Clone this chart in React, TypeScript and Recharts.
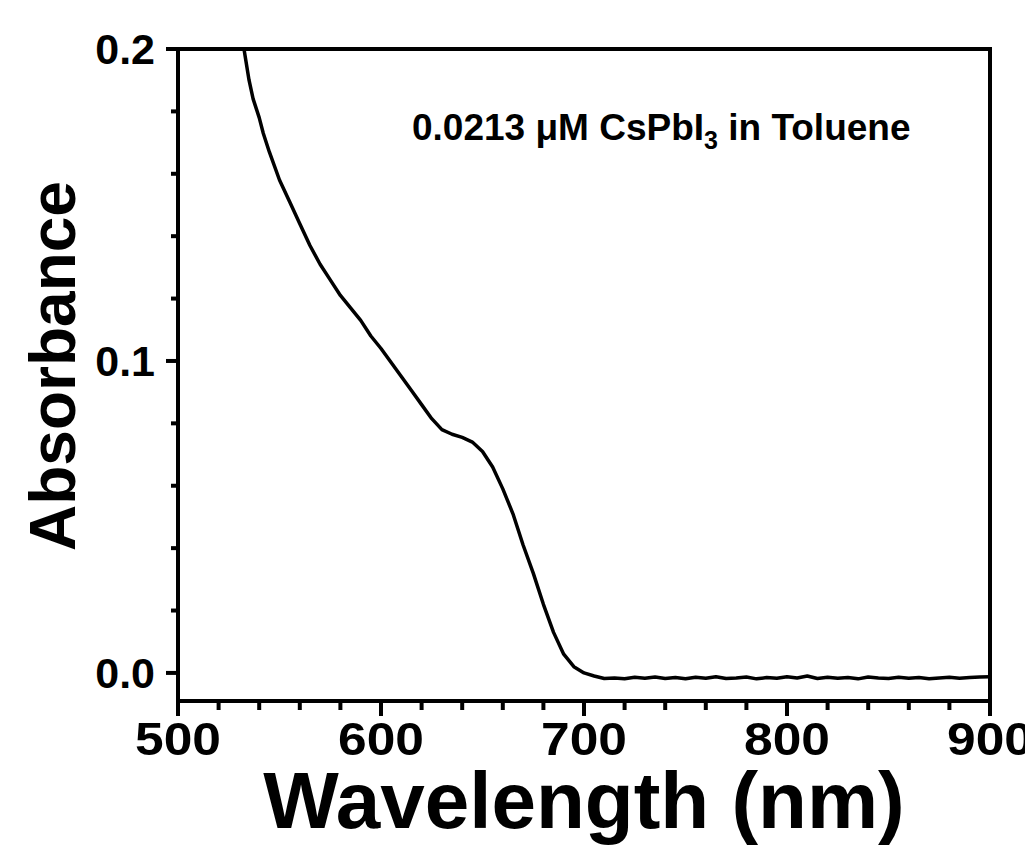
import React from 'react';
import { LineChart, Line, XAxis, YAxis, ReferenceArea } from 'recharts';

const wavelengths = [
  532.5, 535, 537, 540, 542, 545, 550, 555, 560, 565, 570, 575, 580, 585, 590, 595,
  600, 605, 610, 615, 620, 625, 630, 635, 640, 645, 650, 655, 660, 665, 670, 675,
  680, 685, 690, 695, 700, 705, 710, 715, 720, 725, 730, 735, 740, 745, 750, 755,
  760, 765, 770, 775, 780, 785, 790, 795, 800, 805, 810, 815, 820, 825, 830, 835,
  840, 845, 850, 855, 860, 865, 870, 875, 880, 885, 890, 895, 900,
];
const absorbance = [
  0.2, 0.19, 0.184, 0.178, 0.173, 0.167, 0.158, 0.151, 0.144, 0.137, 0.131, 0.126, 0.121, 0.117, 0.113, 0.108,
  0.104, 0.0995, 0.095, 0.0905, 0.086, 0.0815, 0.078, 0.0765, 0.0755, 0.074, 0.071, 0.066, 0.059, 0.051, 0.041, 0.032,
  0.022, 0.013, 0.006, 0.002, 0.0, -0.001, -0.0018, -0.0016, -0.0019, -0.0014, -0.0017, -0.0013, -0.0018, -0.0015, -0.0019, -0.0014,
  -0.0017, -0.0012, -0.0018, -0.0016, -0.0013, -0.0019, -0.0015, -0.0017, -0.0012, -0.0016, -0.001, -0.0018, -0.0014, -0.0017, -0.0015, -0.0019,
  -0.0013, -0.0016, -0.0018, -0.0014, -0.0017, -0.0015, -0.0019, -0.0016, -0.0014, -0.0017, -0.0015, -0.0013, -0.0012,
];
const xTicks = [500, 520, 540, 560, 580, 600, 620, 640, 660, 680, 700, 720, 740, 760, 780, 800, 820, 840, 860, 880, 900];
const yTicks = [0, 0.02, 0.04, 0.06, 0.08, 0.1, 0.12, 0.14, 0.16, 0.18, 0.2];
const xDomain = [500, 900];
const yDomain = [-0.009, 0.2];

const data = wavelengths.map((w, i) => ({ w, a: absorbance[i] }));

const FONT = '"Liberation Sans", Arial, Helvetica, sans-serif';

const XTick = (props: any) => {
  const { x, y, payload } = props;
  const v = payload.value;
  const major = v % 100 === 0;
  return (
    <g>
      <line x1={x} x2={x} y1={y} y2={y + (major ? 15 : 9)} stroke="#000" strokeWidth={4} />
      {major && (
        <text
          transform={`translate(${x},${y + 38}) scale(1.12,1)`}
          x={0}
          y={0}
          dy="0.355em"
          textAnchor="middle"
          fontFamily={FONT}
          fontWeight="bold"
          fontSize={46}
          fill="#000"
        >
          {v}
        </text>
      )}
    </g>
  );
};

const YTick = (props: any) => {
  const { x, y, payload } = props;
  const v = payload.value;
  const major = Math.abs(v * 10 - Math.round(v * 10)) < 1e-9;
  return (
    <g>
      <line x1={x} x2={x - (major ? 12 : 7)} y1={y} y2={y} stroke="#000" strokeWidth={4} />
      {major && (
        <text x={x - 23} y={y} dy="0.355em" textAnchor="end" fontFamily={FONT} fontWeight="bold" fontSize={43} fill="#000">
          {v.toFixed(1)}
        </text>
      )}
    </g>
  );
};

export default function App() {
  const W = 1025;
  const H = 842;
  return (
    <div style={{ position: 'relative', width: W, height: H }}>
      <LineChart width={W} height={H} data={data} margin={{ top: 41, right: 43, bottom: 0, left: 0 }}>
        <XAxis
          dataKey="w"
          type="number"
          domain={xDomain}
          ticks={xTicks}
          interval={0}
          height={149}
          tickSize={0}
          tickMargin={0}
          tickLine={false}
          axisLine={{ stroke: '#000', strokeWidth: 4 }}
          tick={<XTick />}
          allowDataOverflow
        />
        <YAxis
          type="number"
          domain={yDomain}
          ticks={yTicks}
          interval={0}
          width={170}
          tickSize={0}
          tickMargin={0}
          tickLine={false}
          axisLine={{ stroke: '#000', strokeWidth: 4 }}
          tick={<YTick />}
          allowDataOverflow
        />
        <ReferenceArea x1={500} x2={900} y1={yDomain[0]} y2={0.2} fill="none" stroke="#000" strokeWidth={4} ifOverflow="visible" />
        <Line type="linear" dataKey="a" stroke="#000" strokeWidth={3.5} strokeLinejoin="round" dot={false} isAnimationActive={false} />
      </LineChart>
      <svg width={W} height={H} style={{ position: 'absolute', left: 0, top: 0, overflow: 'visible', pointerEvents: 'none' }}>
        <text x={576} y={820} textAnchor="middle" fontFamily={FONT} fontWeight="bold" fontSize={80} fill="#000">
          Wavelength (nm)
        </text>
        <text transform="translate(67,358) rotate(-90)" textAnchor="middle" fontFamily={FONT} fontWeight="bold" fontSize={64} fill="#000">
          Absorbance
        </text>
        <text x={404} y={132} fontFamily={FONT} fontWeight="bold" fontSize={37} fill="#000">
          0.0213 μM CsPbI
          <tspan dy={9} fontSize={25}>3</tspan>
          <tspan dy={-9}> in Toluene</tspan>
        </text>
        <text x={1023} y={348} fontFamily={FONT} fontWeight="bold" fontSize={44} fill="#000">
          c
        </text>
      </svg>
    </div>
  );
}
